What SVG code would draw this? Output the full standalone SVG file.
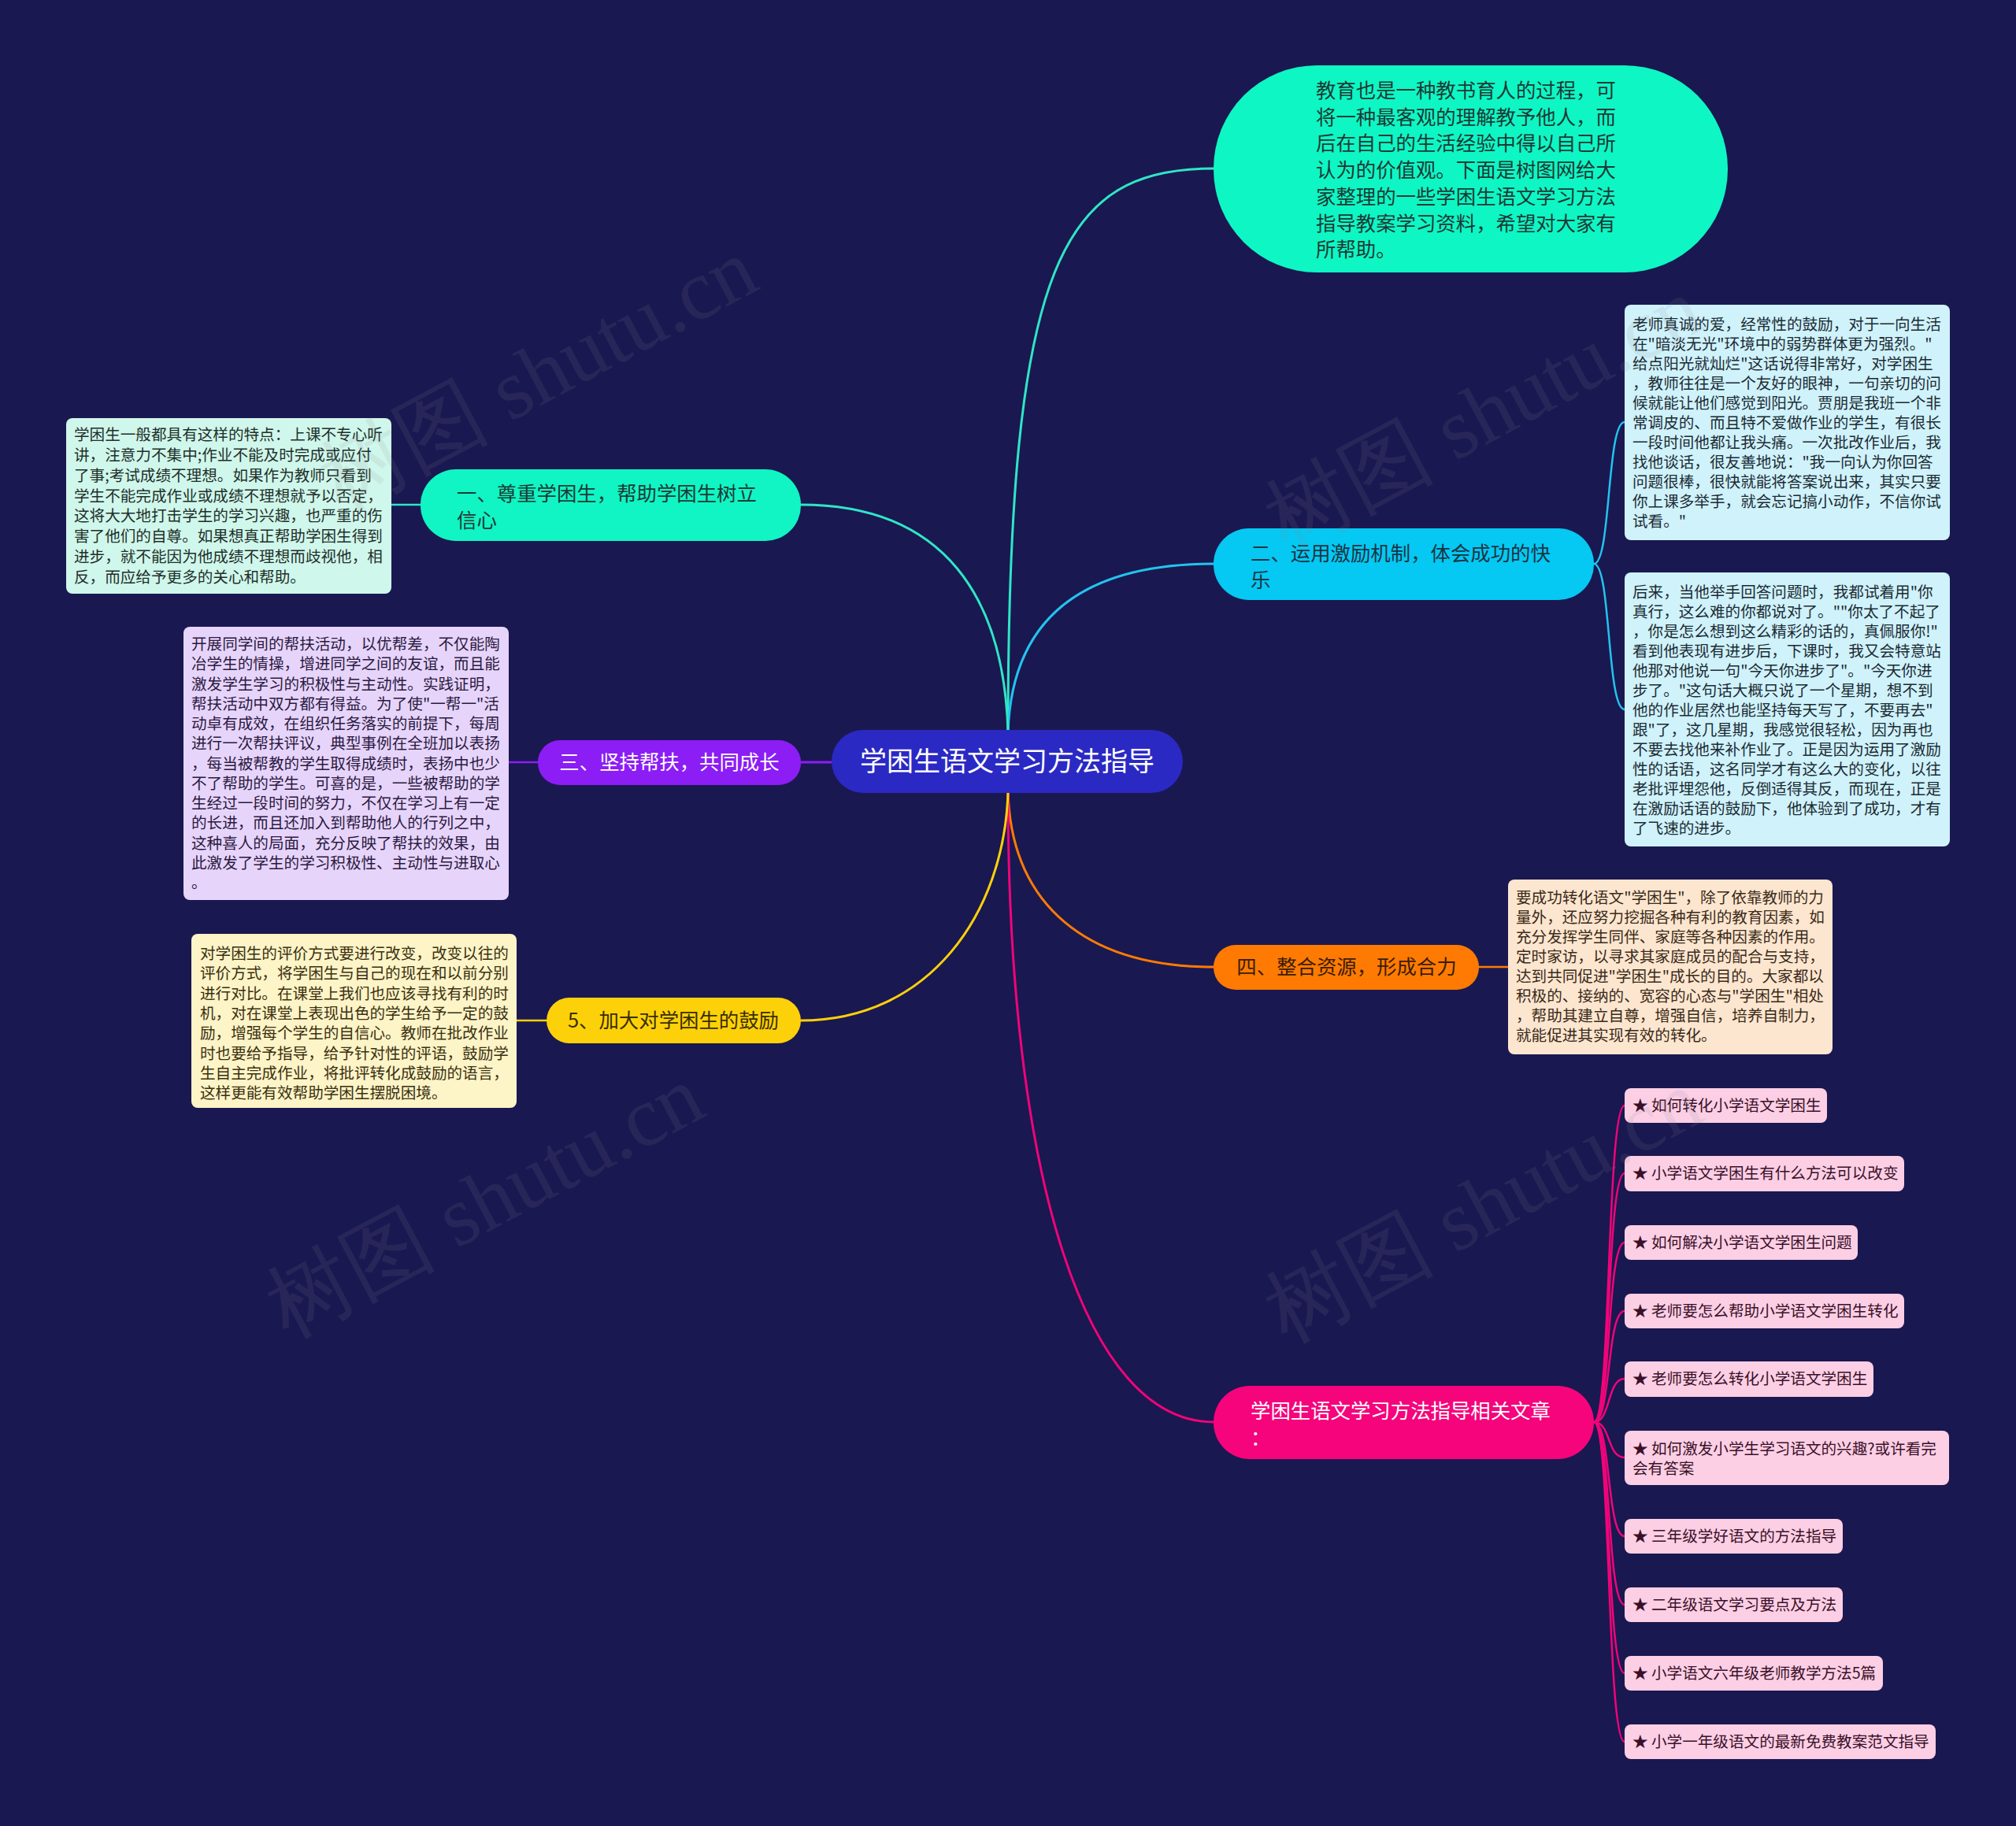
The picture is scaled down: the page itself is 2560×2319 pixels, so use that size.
<svg xmlns="http://www.w3.org/2000/svg" width="2560" height="2319" viewBox="0 0 2560 2319">
<style>
text{font-family:"Noto Sans CJK SC","Noto Sans",sans-serif;}
.c{fill:none;stroke-width:3;stroke-linecap:round;}
.s{fill:none;stroke-width:2.5;stroke-linecap:round;}
.box{font-size:19.6px;}
.lvl{font-size:25.4px;}
.item rect{fill:#fccfe5;}
.item text{font-size:19.6px;fill:#3a1028;}
.wm{font-family:"Liberation Serif",serif;font-size:108px;fill:#8a8a9a;opacity:0.12;}
</style>
<rect x="0" y="0" width="2560" height="2319" fill="#1a1850"/>

<g id="connectors">
  <path class="c" stroke="#2fe6c6" d="M1280 930 C1280 330 1350 214 1541 214"/>
  <path class="c" stroke="#22c4ef" d="M1280 930 C1285 780 1380 716 1541 716"/>
  <path class="c" stroke="#2fe6c6" d="M1280 930 C1275 760 1200 641 1017 641"/>
  <path class="c" stroke="#8c1df5" d="M1056 968 L1017 968"/>
  <path class="c" stroke="#ff7a05" d="M1280 1007 C1285 1150 1380 1228 1541 1228"/>
  <path class="c" stroke="#f0047a" d="M1280 1007 C1280 1500 1380 1806 1541 1806"/>
  <path class="c" stroke="#fdd10a" d="M1280 1007 C1275 1160 1180 1296 1017 1296"/>
  <path class="s" stroke="#2fe6c6" d="M534 641 L497 641"/>
  <path class="s" stroke="#8c1df5" d="M683 968 L646 968"/>
  <path class="s" stroke="#fdd10a" d="M694 1296 L656 1296"/>
  <path class="s" stroke="#ff7a05" d="M1878 1228 L1915 1228"/>
  <path class="s" stroke="#22c4ef" d="M2024 716 C2046 716 2040 536 2063 536"/>
  <path class="s" stroke="#22c4ef" d="M2024 716 C2046 716 2040 901 2063 901"/>
  <path class="s" stroke="#f0047a" d="M2024 1806 C2046 1806 2040 1404 2063 1404"/>
  <path class="s" stroke="#f0047a" d="M2024 1806 C2046 1806 2040 1490 2063 1490"/>
  <path class="s" stroke="#f0047a" d="M2024 1806 C2046 1806 2040 1578 2063 1578"/>
  <path class="s" stroke="#f0047a" d="M2024 1806 C2046 1806 2040 1665 2063 1665"/>
  <path class="s" stroke="#f0047a" d="M2024 1806 C2046 1806 2040 1751 2063 1751"/>
  <path class="s" stroke="#f0047a" d="M2024 1806 C2046 1806 2040 1851 2063 1851"/>
  <path class="s" stroke="#f0047a" d="M2024 1806 C2046 1806 2040 1951 2063 1951"/>
  <path class="s" stroke="#f0047a" d="M2024 1806 C2046 1806 2040 2038 2063 2038"/>
  <path class="s" stroke="#f0047a" d="M2024 1806 C2046 1806 2040 2125 2063 2125"/>
  <path class="s" stroke="#f0047a" d="M2024 1806 C2046 1806 2040 2212 2063 2212"/>
</g>

<g id="root">
  <rect x="1056" y="927" width="446" height="80" rx="40" fill="#2b29c4"/>
  <text x="1279" y="979" font-size="34" fill="#ffffff" text-anchor="middle">学困生语文学习方法指导</text>
</g>

<g id="intro">
  <rect x="1541" y="83" width="653" height="263" rx="131" fill="#0ef6c4"/>
  <text class="lvl" fill="#1d3a35">
    <tspan x="1671" y="124">教育也是一种教书育人的过程，可</tspan>
    <tspan x="1671" y="157.7">将一种最客观的理解教予他人，而</tspan>
    <tspan x="1671" y="191.4">后在自己的生活经验中得以自己所</tspan>
    <tspan x="1671" y="225.1">认为的价值观。下面是树图网给大</tspan>
    <tspan x="1671" y="258.8">家整理的一些学困生语文学习方法</tspan>
    <tspan x="1671" y="292.5">指导教案学习资料，希望对大家有</tspan>
    <tspan x="1671" y="326.2">所帮助。</tspan>
  </text>
</g>

<g id="n1">
  <rect x="534" y="596" width="483" height="91" rx="45" fill="#10f5c3"/>
  <text class="lvl" fill="#1d3a35"><tspan x="580" y="636">一、尊重学困生，帮助学困生树立</tspan><tspan x="580" y="670">信心</tspan></text>
</g>
<g id="n1-detail">
  <rect x="84" y="531" width="413" height="223" rx="8" fill="#d0f7eb"/>
  <text class="box" fill="#1e2f2a">
    <tspan x="94" y="559">学困生一般都具有这样的特点：上课不专心听</tspan>
    <tspan x="94" y="584.9">讲，注意力不集中;作业不能及时完成或应付</tspan>
    <tspan x="94" y="610.7">了事;考试成绩不理想。如果作为教师只看到</tspan>
    <tspan x="94" y="636.6">学生不能完成作业或成绩不理想就予以否定，</tspan>
    <tspan x="94" y="662.4">这将大大地打击学生的学习兴趣，也严重的伤</tspan>
    <tspan x="94" y="688.3">害了他们的自尊。如果想真正帮助学困生得到</tspan>
    <tspan x="94" y="714.2">进步，就不能因为他成绩不理想而歧视他，相</tspan>
    <tspan x="94" y="740">反，而应给予更多的关心和帮助。</tspan>
  </text>
</g>

<g id="n2">
  <rect x="1541" y="671" width="483" height="91" rx="45" fill="#05c8f3"/>
  <text class="lvl" fill="#1b3442"><tspan x="1588" y="712">二、运用激励机制，体会成功的快</tspan><tspan x="1588" y="746">乐</tspan></text>
</g>
<g id="n2-detail-a">
  <rect x="2063" y="387" width="413" height="299" rx="8" fill="#cff2fb"/>
  <text class="box" fill="#1c2b33">
    <tspan x="2073" y="419">老师真诚的爱，经常性的鼓励，对于一向生活</tspan>
    <tspan x="2073" y="444">在"暗淡无光"环境中的弱势群体更为强烈。"</tspan>
    <tspan x="2073" y="469">给点阳光就灿烂"这话说得非常好，对学困生</tspan>
    <tspan x="2073" y="494">，教师往往是一个友好的眼神，一句亲切的问</tspan>
    <tspan x="2073" y="519">候就能让他们感觉到阳光。贾朋是我班一个非</tspan>
    <tspan x="2073" y="544">常调皮的、而且特不爱做作业的学生，有很长</tspan>
    <tspan x="2073" y="569">一段时间他都让我头痛。一次批改作业后，我</tspan>
    <tspan x="2073" y="594">找他谈话，很友善地说："我一向认为你回答</tspan>
    <tspan x="2073" y="619">问题很棒，很快就能将答案说出来，其实只要</tspan>
    <tspan x="2073" y="644">你上课多举手，就会忘记搞小动作，不信你试</tspan>
    <tspan x="2073" y="669">试看。"</tspan>
  </text>
</g>
<g id="n2-detail-b">
  <rect x="2063" y="727" width="413" height="348" rx="8" fill="#cff2fb"/>
  <text class="box" fill="#1c2b33">
    <tspan x="2073" y="759">后来，当他举手回答问题时，我都试着用"你</tspan>
    <tspan x="2073" y="784">真行，这么难的你都说对了。""你太了不起了</tspan>
    <tspan x="2073" y="809">，你是怎么想到这么精彩的话的，真佩服你!"</tspan>
    <tspan x="2073" y="834">看到他表现有进步后，下课时，我又会特意站</tspan>
    <tspan x="2073" y="859">他那对他说一句"今天你进步了"。"今天你进</tspan>
    <tspan x="2073" y="884">步了。"这句话大概只说了一个星期，想不到</tspan>
    <tspan x="2073" y="909">他的作业居然也能坚持每天写了，不要再去"</tspan>
    <tspan x="2073" y="934">跟"了，这几星期，我感觉很轻松，因为再也</tspan>
    <tspan x="2073" y="959">不要去找他来补作业了。正是因为运用了激励</tspan>
    <tspan x="2073" y="984">性的话语，这名同学才有这么大的变化，以往</tspan>
    <tspan x="2073" y="1009">老批评埋怨他，反倒适得其反，而现在，正是</tspan>
    <tspan x="2073" y="1034">在激励话语的鼓励下，他体验到了成功，才有</tspan>
    <tspan x="2073" y="1059">了飞速的进步。</tspan>
  </text>
</g>

<g id="n3">
  <rect x="683" y="940" width="334" height="57" rx="28" fill="#8c1df5"/>
  <text class="lvl" x="850" y="977" fill="#ffffff" text-anchor="middle">三、坚持帮扶，共同成长</text>
</g>
<g id="n3-detail">
  <rect x="233" y="796" width="413" height="347" rx="8" fill="#e7d4fb"/>
  <text class="box" fill="#2a1a40">
    <tspan x="243" y="825">开展同学间的帮扶活动，以优帮差，不仅能陶</tspan>
    <tspan x="243" y="850.3">冶学生的情操，增进同学之间的友谊，而且能</tspan>
    <tspan x="243" y="875.5">激发学生学习的积极性与主动性。实践证明，</tspan>
    <tspan x="243" y="900.8">帮扶活动中双方都有得益。为了使"一帮一"活</tspan>
    <tspan x="243" y="926.1">动卓有成效，在组织任务落实的前提下，每周</tspan>
    <tspan x="243" y="951.4">进行一次帮扶评议，典型事例在全班加以表扬</tspan>
    <tspan x="243" y="976.6">，每当被帮教的学生取得成绩时，表扬中也少</tspan>
    <tspan x="243" y="1001.9">不了帮助的学生。可喜的是，一些被帮助的学</tspan>
    <tspan x="243" y="1027.2">生经过一段时间的努力，不仅在学习上有一定</tspan>
    <tspan x="243" y="1052.4">的长进，而且还加入到帮助他人的行列之中，</tspan>
    <tspan x="243" y="1077.7">这种喜人的局面，充分反映了帮扶的效果，由</tspan>
    <tspan x="243" y="1103">此激发了学生的学习积极性、主动性与进取心</tspan>
    <tspan x="243" y="1128.2">。</tspan>
  </text>
</g>

<g id="n4">
  <rect x="1541" y="1200" width="337" height="57" rx="28" fill="#fe7a02"/>
  <text class="lvl" x="1710" y="1237" fill="#3a1c05" text-anchor="middle">四、整合资源，形成合力</text>
</g>
<g id="n4-detail">
  <rect x="1915" y="1117" width="412" height="222" rx="8" fill="#fde6cf"/>
  <text class="box" fill="#3a2a1a">
    <tspan x="1925" y="1147">要成功转化语文"学困生"，除了依靠教师的力</tspan>
    <tspan x="1925" y="1172">量外，还应努力挖掘各种有利的教育因素，如</tspan>
    <tspan x="1925" y="1197">充分发挥学生同伴、家庭等各种因素的作用。</tspan>
    <tspan x="1925" y="1222">定时家访，以寻求其家庭成员的配合与支持，</tspan>
    <tspan x="1925" y="1247">达到共同促进"学困生"成长的目的。大家都以</tspan>
    <tspan x="1925" y="1272">积极的、接纳的、宽容的心态与"学困生"相处</tspan>
    <tspan x="1925" y="1297">，帮助其建立自尊，增强自信，培养自制力，</tspan>
    <tspan x="1925" y="1322">就能促进其实现有效的转化。</tspan>
  </text>
</g>

<g id="n5">
  <rect x="694" y="1267" width="323" height="58" rx="29" fill="#fdd10a"/>
  <text class="lvl" x="855" y="1305" fill="#3a2e00" text-anchor="middle">5、加大对学困生的鼓励</text>
</g>
<g id="n5-detail">
  <rect x="243" y="1186" width="413" height="221" rx="8" fill="#fdf4c7"/>
  <text class="box" fill="#3a3010">
    <tspan x="254" y="1218">对学困生的评价方式要进行改变，改变以往的</tspan>
    <tspan x="254" y="1243.3">评价方式，将学困生与自己的现在和以前分别</tspan>
    <tspan x="254" y="1268.6">进行对比。在课堂上我们也应该寻找有利的时</tspan>
    <tspan x="254" y="1293.9">机，对在课堂上表现出色的学生给予一定的鼓</tspan>
    <tspan x="254" y="1319.2">励，增强每个学生的自信心。教师在批改作业</tspan>
    <tspan x="254" y="1344.5">时也要给予指导，给予针对性的评语，鼓励学</tspan>
    <tspan x="254" y="1369.8">生自主完成作业，将批评转化成鼓励的语言，</tspan>
    <tspan x="254" y="1395.1">这样更能有效帮助学困生摆脱困境。</tspan>
  </text>
</g>

<g id="n6">
  <rect x="1541" y="1760" width="483" height="93" rx="46" fill="#f5047c"/>
  <text class="lvl" fill="#ffffff"><tspan x="1588" y="1801">学困生语文学习方法指导相关文章</tspan><tspan x="1588" y="1835">：</tspan></text>
</g>
<g id="item1" class="item"><rect x="2063" y="1382" width="257" height="44" rx="8"/><text x="2073" y="1411">★ 如何转化小学语文学困生</text></g>
<g id="item2" class="item"><rect x="2063" y="1468" width="355" height="45" rx="8"/><text x="2073" y="1497">★ 小学语文学困生有什么方法可以改变</text></g>
<g id="item3" class="item"><rect x="2063" y="1556" width="296" height="44" rx="8"/><text x="2073" y="1585">★ 如何解决小学语文学困生问题</text></g>
<g id="item4" class="item"><rect x="2063" y="1643" width="355" height="44" rx="8"/><text x="2073" y="1672">★ 老师要怎么帮助小学语文学困生转化</text></g>
<g id="item5" class="item"><rect x="2063" y="1729" width="316" height="45" rx="8"/><text x="2073" y="1758">★ 老师要怎么转化小学语文学困生</text></g>
<g id="item6" class="item"><rect x="2063" y="1817" width="412" height="69" rx="8"/><text><tspan x="2073" y="1847">★ 如何激发小学生学习语文的兴趣?或许看完</tspan><tspan x="2073" y="1872">会有答案</tspan></text></g>
<g id="item7" class="item"><rect x="2063" y="1929" width="277" height="44" rx="8"/><text x="2073" y="1958">★ 三年级学好语文的方法指导</text></g>
<g id="item8" class="item"><rect x="2063" y="2016" width="277" height="44" rx="8"/><text x="2073" y="2045">★ 二年级语文学习要点及方法</text></g>
<g id="item9" class="item"><rect x="2063" y="2103" width="328" height="44" rx="8"/><text x="2073" y="2132">★ 小学语文六年级老师教学方法5篇</text></g>
<g id="item10" class="item"><rect x="2063" y="2190" width="395" height="44" rx="8"/><text x="2073" y="2219">★ 小学一年级语文的最新免费教案范文指导</text></g>

<g id="watermarks">
  <text class="wm" transform="translate(433 650) rotate(-28)">树图 shutu.cn</text>
  <text class="wm" transform="translate(1633 700) rotate(-28)">树图 shutu.cn</text>
  <text class="wm" transform="translate(365 1700) rotate(-28)">树图 shutu.cn</text>
  <text class="wm" transform="translate(1633 1706) rotate(-28)">树图 shutu.cn</text>
</g>
</svg>
